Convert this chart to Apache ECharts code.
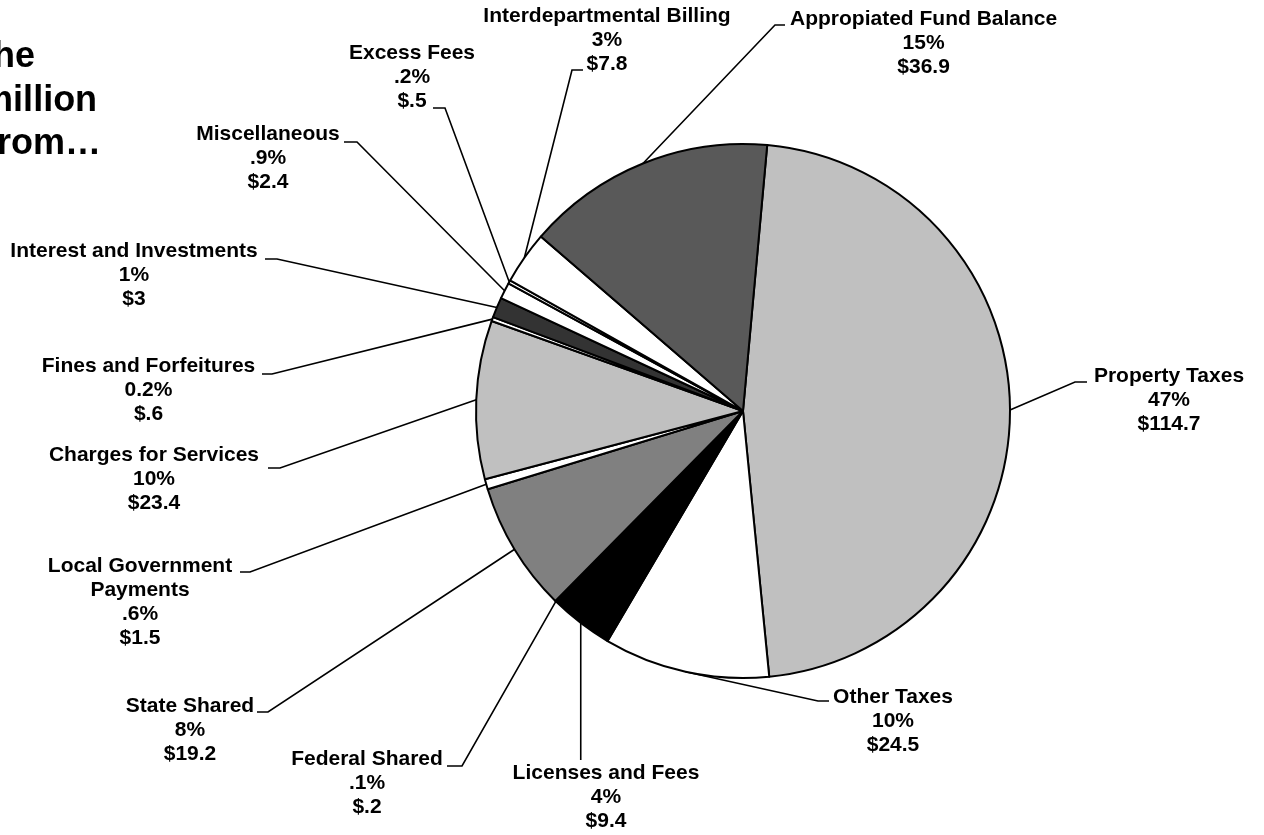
<!DOCTYPE html>
<html>
<head>
<meta charset="utf-8">
<script src="https://cdn.jsdelivr.net/npm/echarts@6/dist/echarts.min.js"></script>
<style>
  html, body { margin: 0; padding: 0; background: #fff; }
  #chart { width: 1264px; height: 835px; }
</style>
</head>
<body>
<div id="chart"></div>
<script>
// Revenue sources, $ millions, listed clockwise from Property Taxes
const categories = [
  'Property Taxes', 'Other Taxes', 'Licenses and Fees', 'Federal Shared',
  'State Shared', 'Local Government\nPayments', 'Charges for Services',
  'Fines and Forfeitures', 'Interest and Investments', 'Miscellaneous',
  'Excess Fees', 'Interdepartmental Billing', 'Appropiated Fund Balance'
];
const values = [114.7, 24.5, 9.4, 0.2, 19.2, 1.5, 23.4, 0.6, 3, 2.4, 0.5, 7.8, 36.9];
const pctLabels = ['47%', '10%', '4%', '.1%', '8%', '.6%', '10%', '0.2%', '1%', '.9%', '.2%', '3%', '15%'];

// Slice fills
const fills = ['#c0c0c0', '#ffffff', '#000000', '#ffffff', '#808080', '#ffffff', '#c0c0c0',
               '#ffffff', '#333333', '#ffffff', '#ffffff', '#ffffff', '#595959'];

// Label placement: centre x, first-line middle y, leader bend point, leader end point
const labelSpots = [
  [1169, 376, [1075, 382], [1087, 382]],
  [893, 697, [818, 701], [829, 701]],
  [606, 773, null, [null, 760]],
  [367, 759, [462, 766], [447, 766]],
  [190, 706, [268, 712], [257, 712]],
  [140, 566, [250, 572], [240, 572]],
  [154, 455, [280, 468], [268, 468]],
  [148.5, 366, [272, 374], [262, 374]],
  [134, 251, [277, 259], [265, 259]],
  [268, 134.5, [357, 142], [344, 142]],
  [412, 53, [445, 108], [433, 108]],
  [607, 16, [572, 70], [583, 70]],
  [923.6, 19, [775, 25], [785, 25]]
];

const FONT = '"Liberation Sans", Arial, Helvetica, sans-serif';

function money(v) {
  return '$' + String(v).replace(/^0\./, '.');
}

const chart = echarts.init(document.getElementById('chart'), null, { renderer: 'canvas' });

const seriesData = categories.map((name, i) => ({
  name: name,
  value: values[i],
  itemStyle: { color: fills[i] }
}));

chart.setOption({
  backgroundColor: '#ffffff',
  animation: false,
  graphic: [{
    type: 'text',
    x: -139,
    y: 35.5,
    style: {
      text: 'Where the\n$244.1 million\ncomes from\u2026',
      font: 'bold 36px ' + FONT,
      lineHeight: 43.5,
      fill: '#000',
      textAlign: 'left',
      textVerticalAlign: 'top'
    }
  }],
  series: [{
    type: 'pie',
    center: [743, 411],
    radius: 267,
    startAngle: 84.8,
    clockwise: true,
    avoidLabelOverlap: false,
    minShowLabelAngle: 0,
    data: seriesData,
    itemStyle: { borderColor: '#000', borderWidth: 2 },
    emphasis: { disabled: true },
    label: {
      show: true,
      position: 'outside',
      formatter: p => p.name + '\n' + pctLabels[p.dataIndex] + '\n' + money(p.value),
      fontFamily: FONT,
      fontWeight: 'bold',
      fontSize: 21,
      lineHeight: 24,
      color: '#000',
      align: 'center'
    },
    labelLine: {
      show: true,
      length: 20,
      length2: 10,
      smooth: false,
      lineStyle: { color: '#000', width: 1.6 }
    },
    labelLayout: function (params) {
      const s = labelSpots[params.dataIndex];
      const p0 = params.labelLinePoints[0];
      const pts = [p0];
      if (s[2]) pts.push(s[2]);
      pts.push([s[3][0] == null ? p0[0] : s[3][0], s[3][1]]);
      return {
        x: s[0],
        y: s[1] - 12,
        align: 'center',
        verticalAlign: 'top',
        labelLinePoints: pts
      };
    }
  }]
});
</script>
</body>
</html>
